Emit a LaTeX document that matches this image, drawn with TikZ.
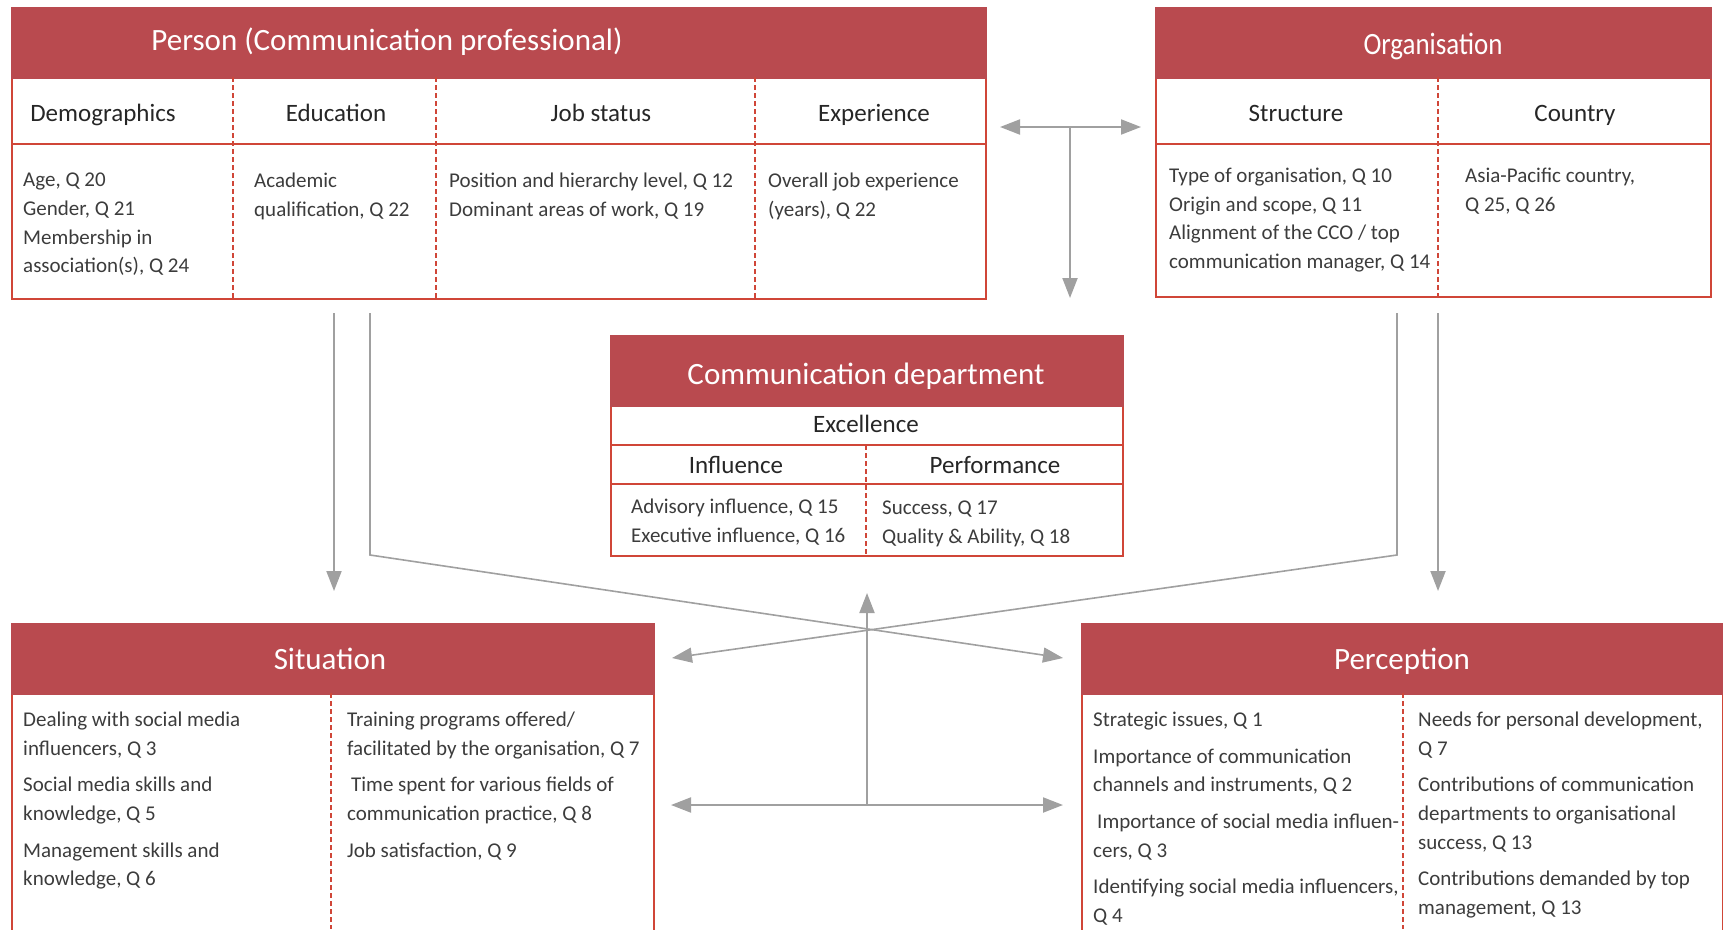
\documentclass[tikz,border=0pt]{standalone}
\usepackage{fontspec}
\setmainfont{Carlito}
\newfontfamily\narrowfont{Carlito}[FakeStretch=0.87]
\usetikzlibrary{arrows.meta}
\definecolor{headred}{RGB}{185,74,79}
\definecolor{framered}{RGB}{208,70,56}
\definecolor{arrowgrey}{RGB}{160,160,160}
\definecolor{itemgrey}{RGB}{60,60,60}
\begin{document}
\begin{tikzpicture}[x=1pt, y=-1pt,
  boxframe/.style={draw=framered, line width=2pt, anchor=north west, inner sep=0pt},
  headband/.style={fill=headred, draw=headred, line width=2pt, anchor=north west, inner sep=0pt, minimum height=70pt},
  rowline/.style={draw=framered, line width=2pt},
  dashsplit/.style={draw=framered, line width=1.5pt, dash pattern=on 5pt off 3pt},
  headtext/.style={text=white, anchor=base, font=\fontsize{31}{37}\selectfont},
  subtext/.style={text=black!85, anchor=base, font=\fontsize{25}{30}\selectfont},
  itemtext/.style={text=itemgrey, anchor=north west, align=left, inner sep=0pt,
    font=\fontsize{21}{28.6}\selectfont, execute at begin node=\strut},
  link/.style={draw=arrowgrey, line width=2pt},
  onehead/.style={link, -{Triangle[length=20pt, width=15pt]}},
  twohead/.style={link, {Triangle[length=20pt, width=15pt]}-{Triangle[length=20pt, width=15pt]}}
]
\useasboundingbox (0,0) rectangle (1723,929);
\clip (0,0) rectangle (1723,929);

% person
\node (person) [boxframe, minimum width=974pt, minimum height=291pt] at (11,7) {};
\node (personhead) [headband, minimum width=974pt] at (person.north west) {};
\draw[rowline] (11,144) -- (985,144);
\foreach \x in {233,436,755}
  \draw[dashsplit] (\x,77) -- (\x,298);
\node (persontitle) [headtext] at (387,50) {Person (Communication professional)};
\node (demographics) [subtext] at (103,121) {Demographics};
\node (education) [subtext] at (336,121) {Education};
\node (jobstatus) [subtext] at (601,121) {Job status};
\node (experience) [subtext] at (874,121) {Experience};
\node (demoitems) [itemtext] at (23,173) {Age, Q 20\\Gender, Q 21\\Membership in\\association(s), Q 24};
\node (eduitems) [itemtext] at (254,173) {Academic\\qualification, Q 22};
\node (jobitems) [itemtext] at (449,173) {Position and hierarchy level, Q 12\\Dominant areas of work, Q 19};
\node (expitems) [itemtext] at (768,173) {Overall job experience\\(years), Q 22};

% organisation
\node (org) [boxframe, minimum width=555pt, minimum height=289pt] at (1155,7) {};
\node (orghead) [headband, minimum width=555pt] at (org.north west) {};
\draw[rowline] (1155,144) -- (1710,144);
\draw[dashsplit] (1438,77) -- (1438,296);
\node (orgtitle) [headtext, font=\fontsize{31}{37}\narrowfont] at (1433,54) {Organisation};
\node (structure) [subtext] at (1296,121) {Structure};
\node (country) [subtext] at (1575,121) {Country};
\node (structitems) [itemtext] at (1169,168) {Type of organisation, Q 10\\Origin and scope, Q 11\\Alignment of the CCO / top\\communication manager, Q 14};
\node (countryitems) [itemtext] at (1465,168) {Asia-Pacific country,\\Q 25, Q 26};

% communication department
\node (dept) [boxframe, minimum width=512pt, minimum height=220pt] at (610,335) {};
\node (depthead) [headband, minimum width=512pt] at (dept.north west) {};
\draw[rowline] (610,445) -- (1122,445);
\draw[rowline] (610,484) -- (1122,484);
\draw[dashsplit] (866,445) -- (866,555);
\node (depttitle) [headtext] at (866,384) {Communication department};
\node (excellence) [subtext] at (866,432) {Excellence};
\node (influence) [subtext] at (736,473) {Influence};
\node (performance) [subtext] at (995,473) {Performance};
\node (inflitems) [itemtext] at (631,499) {Advisory influence, Q 15\\Executive influence, Q 16};
\node (perfitems) [itemtext] at (882,501) {Success, Q 17\\Quality \& Ability, Q 18};

% situation
\node (situation) [boxframe, minimum width=642pt, minimum height=400pt] at (11,623) {};
\node (situationhead) [headband, minimum width=642pt] at (situation.north west) {};
\draw[dashsplit] (331,693) -- (331,929);
\node (situationtitle) [headtext] at (330,669) {Situation};
\node (sitleft) [itemtext] at (23,712) {Dealing with social media\\influencers, Q 3\\[8pt]Social media skills and\\knowledge, Q 5\\[8pt]Management skills and\\knowledge, Q 6};
\node (sitright) [itemtext] at (347,712) {Training programs offered/\\facilitated by the organisation, Q 7\\[8pt]\hspace{4pt}Time spent for various fields of\\communication practice, Q 8\\[8pt]Job satisfaction, Q 9};

% perception
\node (perception) [boxframe, minimum width=641pt, minimum height=400pt] at (1081,623) {};
\node (perceptionhead) [headband, minimum width=641pt] at (perception.north west) {};
\draw[dashsplit] (1403,693) -- (1403,929);
\node (perceptiontitle) [headtext] at (1402,669) {Perception};
\node (percleft) [itemtext] at (1093,712) {Strategic issues, Q 1\\[8pt]Importance of communication\\channels and instruments, Q 2\\[8pt]\hspace{4pt}Importance of social media influen-\\cers, Q 3\\[8pt]Identifying social media influencers,\\Q 4};
\node (percright) [itemtext] at (1418,712) {Needs for personal development,\\Q 7\\[8pt]Contributions of communication\\departments to organisational\\success, Q 13\\[8pt]Contributions demanded by top\\management, Q 13};

% arrows
\coordinate (orgleft) at (1000,127);
\coordinate (orgright) at (1141,127);
\coordinate (tjoint) at (1070,127);
\coordinate (tfoot) at (1070,298);
\coordinate (pdown) at (334,313);
\coordinate (pdownend) at (334,591);
\coordinate (pcross) at (370,313);
\coordinate (pbend) at (370,555);
\coordinate (pcrossend) at (1063,658);
\coordinate (ocross) at (1397,313);
\coordinate (obend) at (1397,555);
\coordinate (ocrossend) at (672,658);
\coordinate (odown) at (1438,313);
\coordinate (odownend) at (1438,591);
\coordinate (upfoot) at (867,805);
\coordinate (uptip) at (867,593);
\coordinate (sitside) at (671,805);
\coordinate (percside) at (1063,805);

\draw[twohead] (orgleft) -- (orgright);
\draw[onehead] (tjoint) -- (tfoot);
\draw[onehead] (pdown) -- (pdownend);
\draw[onehead, line width=1.6pt] (pcross) -- (pbend) -- (pcrossend);
\draw[onehead, line width=1.6pt] (ocross) -- (obend) -- (ocrossend);
\draw[onehead] (odown) -- (odownend);
\draw[onehead] (upfoot) -- (uptip);
\draw[twohead] (sitside) -- (percside);
\end{tikzpicture}
\end{document}
